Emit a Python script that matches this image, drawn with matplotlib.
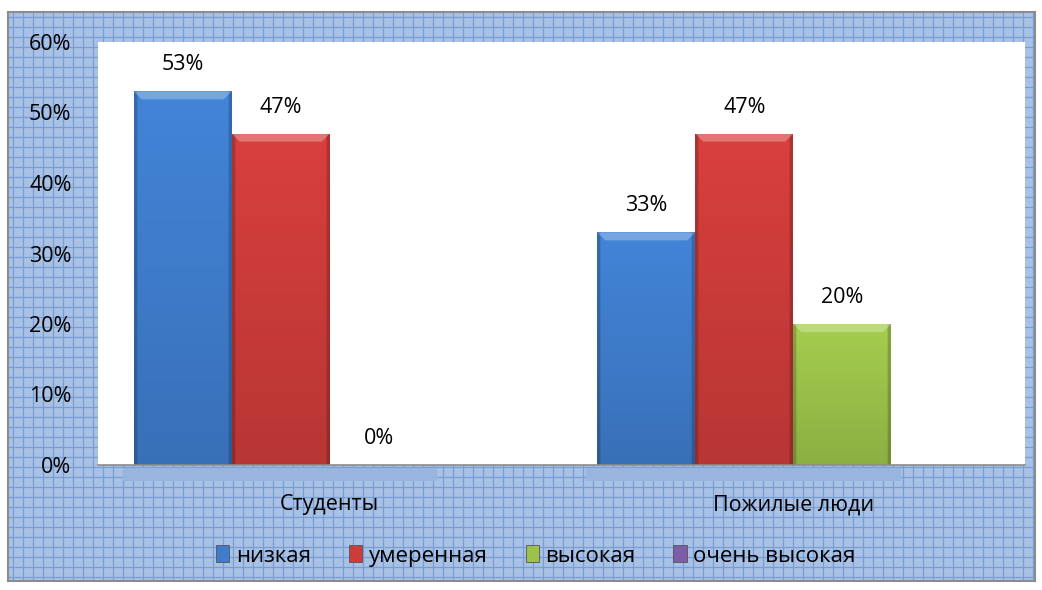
import numpy as np
import matplotlib
matplotlib.use("Agg")
import matplotlib.pyplot as plt
from matplotlib.patches import Rectangle, Patch, Polygon
import matplotlib.transforms as mtransforms
from matplotlib.colors import to_rgb

categories = ["Студенты", "Пожилые люди"]
series_names = ["низкая", "умеренная", "высокая", "очень высокая"]
values = {
    "низкая": [0.53, 0.33],
    "умеренная": [0.47, 0.47],
    "высокая": [0.00, 0.20],
    "очень высокая": [None, None],
}
colors = {
    "низкая": "#3f7dcc",
    "умеренная": "#cc3c3a",
    "высокая": "#9cc24a",
    "очень высокая": "#7d5ea6",
}
yticks = [0, 0.1, 0.2, 0.3, 0.4, 0.5, 0.6]
ytick_labels = ["0%", "10%", "20%", "30%", "40%", "50%", "60%"]

plt.rcParams['font.family'] = ['Open Sans', 'DejaVu Sans']
FS = 15.5

W, H = 1042, 590
fig = plt.figure(figsize=(W / 100, H / 100), dpi=100, facecolor='white')

# patterned frame background drawn in a pixel-coordinate axes
X0, X1, Y0, Y1 = 8, 1035, 12, 581
bgax = fig.add_axes([X0 / W, 1 - Y1 / H, (X1 - X0) / W, (Y1 - Y0) / H])
bgax.set_xlim(X0, X1)
bgax.set_ylim(Y1, Y0)
bgax.set_facecolor('#a8c1e4')
bgax.set_xticks([])
bgax.set_yticks([])
bgax.set_zorder(0)
gx = np.arange(X0 + 5, X1, 10)
gy = np.arange(Y0 + 5, Y1, 10)
bgax.vlines(gx, Y0, Y1, color='#779dd5', linewidth=0.85)
bgax.hlines(gy, X0, X1, color='#779dd5', linewidth=0.85)
for s in bgax.spines.values():
    s.set_color('#8c8c8c')
    s.set_linewidth(1.5)

ax = fig.add_axes([98 / W, 1 - 465 / H, (1025 - 98) / W, (465 - 42) / H])
ax.set_facecolor('white')
ax.set_zorder(2)

n = len(series_names)
w = 98 / 463.5
x = np.arange(len(categories))
bev_y = 8 / 705
bev_x = 8 / 463.5


def grad_image(color):
    c = np.array(to_rgb(color))
    ny, nx = 200, 60
    yy = np.linspace(0, 1, ny)[:, None]   # 0 top, 1 bottom
    xx = np.linspace(0, 1, nx)[None, :]
    fac = 1.06 - 0.16 * yy
    edge = np.minimum(xx, 1 - xx)
    fac = fac * np.where(edge < 0.03, 0.80, 1.0)
    img = np.clip(c[None, None, :] * fac[..., None], 0, 1)
    return img


for k, name in enumerate(series_names):
    vals = values[name]
    for i, v in enumerate(vals):
        if v is None:
            continue
        xc = x[i] + (k - (n - 1) / 2) * w
        rect = ax.bar(xc, v, width=w, color=colors[name], edgecolor='none',
                      zorder=3)[0]
        if v > 0:
            img = grad_image(colors[name])
            im = ax.imshow(img, extent=(xc - w / 2, xc + w / 2, 0, v),
                           aspect='auto', zorder=4, interpolation='bilinear')
            im.set_clip_path(rect)
            l, r = xc - w / 2, xc + w / 2
            top = Polygon([(l, v), (r, v), (r - bev_x, v - bev_y),
                           (l + bev_x, v - bev_y)], closed=True,
                          facecolor='white', alpha=0.28, edgecolor='none',
                          zorder=5)
            ax.add_patch(top)
        ax.annotate(f"{round(v * 100)}%", (xc, v), xytext=(0, 19),
                    textcoords='offset points', ha='center', va='center',
                    fontsize=FS, color='black', zorder=6)

# floor shadows beneath groups
trans = mtransforms.blended_transform_factory(ax.transData, ax.transAxes)
for i in range(len(categories)):
    ks = [k for k, nm in enumerate(series_names) if values[nm][i] is not None]
    left = x[i] + (min(ks) - (n - 1) / 2) * w - w / 2 - 0.024
    right = x[i] + (max(ks) - (n - 1) / 2) * w + w / 2 + 0.02
    sh = Rectangle((left, -16 / 423), right - left, 13 / 423, transform=trans,
                   facecolor='#97b5de', edgecolor='none', clip_on=False,
                   zorder=1)
    ax.add_patch(sh)

ax.set_xlim(-0.5, len(categories) - 0.5)
ax.set_ylim(0, 0.6)
ax.set_xticks(x)
ax.set_xticklabels(categories, fontsize=FS)
ax.set_yticks(yticks)
ax.set_yticklabels(ytick_labels, fontsize=FS)
ax.tick_params(axis='both', length=0)
ax.tick_params(axis='y', pad=19)
ax.tick_params(axis='x', pad=21)
for s in ['top', 'right', 'left']:
    ax.spines[s].set_visible(False)
ax.spines['bottom'].set_color('#8c8c8c')
ax.spines['bottom'].set_linewidth(1.2)
ax.spines['bottom'].set_zorder(7)

handles = [Patch(facecolor=colors[nm], edgecolor='#555555', linewidth=0.6)
           for nm in series_names]
fig.legend(handles, series_names, loc='center',
           bbox_to_anchor=(536 / W, 1 - 556 / H), ncol=4, frameon=False,
           fontsize=16, handlelength=0.6, handleheight=0.8, handletextpad=0.3,
           columnspacing=1.7)

fig.savefig("out.png", dpi=100, facecolor='white')
